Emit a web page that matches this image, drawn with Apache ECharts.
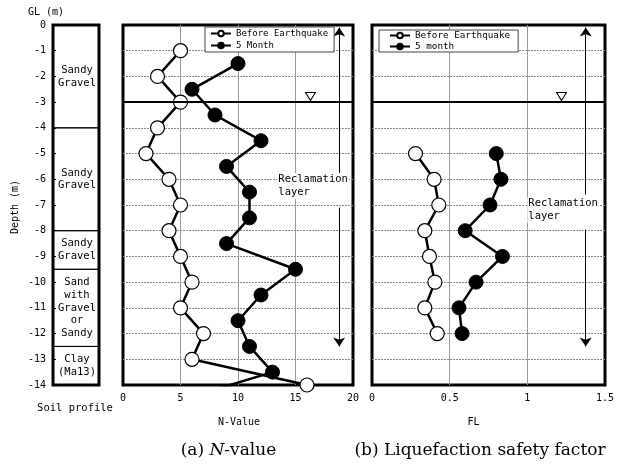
<!DOCTYPE html>
<html><head><meta charset="utf-8">
<script src="https://cdn.jsdelivr.net/npm/echarts@6/dist/echarts.min.js"></script>
<style>html,body{margin:0;padding:0;background:#fff}#c{width:625px;height:465px}</style>
</head><body><div id="c"></div>
<script>
// ---- data ----
const nBeforeDepth = [-1,-2,-3,-4,-5,-6,-7,-8,-9,-10,-11,-12,-13,-14];
const nBeforeValue = [5,3,5,3,2,4,5,4,5,6,5,7,6,16];
const n5MonthDepth = [-1.5,-2.5,-3.5,-4.5,-5.5,-6.5,-7.5,-8.5,-9.5,-10.5,-11.5,-12.5,-13.5,-14.5];
const n5MonthValue = [10,6,8,12,9,11,11,9,15,12,10,11,13,5.6];
const flDepth = [-5,-6,-7,-8,-9,-10,-11,-12];
const flBefore = [0.28,0.40,0.43,0.34,0.37,0.405,0.34,0.42];
const fl5Month = [0.80,0.83,0.76,0.60,0.84,0.67,0.56,0.58];
const soilTop = [0,-4,-8,-9.5,-12.5];
const soilBottom = [-4,-8,-9.5,-12.5,-14];
const soilNames = ['Sandy\nGravel','Sandy\nGravel','Sandy\nGravel','Sand\nwith\nGravel\nor\nSandy','Clay\n(Ma13)'];
const waterLevel = -3;
const reclamationTop = 0, reclamationBottom = -12.5;
const legendN = ['Before Earthquake','5 Month'];
const legendFL = ['Before Earthquake','5 month'];

const mono = "'DejaVu Sans Mono', monospace";
const chart = echarts.init(document.getElementById('c'), null, {renderer:'canvas'});

const pairs = (xs, ys) => xs.map((x,i)=>[x, ys[i]]);
const frame = {show:true, borderColor:'#000', borderWidth:3, backgroundColor:'transparent'};

function depthY(i){ return {min:-14, max:0, interval:1, gridIndex:i, type:'value'}; }

const hiddenAxisParts = {axisLine:{show:false}, axisTick:{show:false}};

function annotations(xArrow, upFrom, downFrom, textX, textY, triX){
  return {
    markLine: {
      silent:true, animation:false, label:{show:false},
      symbol:'none', symbolSize:9,
      lineStyle:{color:'#000', width:1, type:'solid'},
      data:[
        {yAxis: waterLevel, lineStyle:{color:'#000', width:2, type:'solid'}},
        [{coord:[xArrow, upFrom], symbol:'none'}, {coord:[xArrow, reclamationTop-0.1], symbol:'arrow', symbolSize:9}],
        [{coord:[xArrow, downFrom], symbol:'none'}, {coord:[xArrow, reclamationBottom], symbol:'arrow', symbolSize:9}]
      ]
    },
    markPoint: {
      silent:true, animation:false,
      data:[
        {coord:[triX, waterLevel+0.22], symbol:'triangle', symbolRotate:180, symbolSize:[10,8],
         itemStyle:{color:'#fff', borderColor:'#000', borderWidth:1}, label:{show:false}},
        {coord:[textX, textY], symbol:'circle', symbolSize:0,
         itemStyle:{color:'transparent'},
         label:{show:true, position:'inside', align:'left', verticalAlign:'middle',
                formatter:'Reclamation\nlayer', fontFamily:mono, fontSize:10.5, lineHeight:13,
                color:'#000', backgroundColor:'#fff', padding:[0,1]}}
      ]
    }
  };
}

const lineBase = {type:'line', symbol:'circle', symbolSize:14, showAllSymbol:true,
  lineStyle:{color:'#000', width:2.5}, z:3, animation:false};
const whiteSym = {color:'#fff', borderColor:'#000', borderWidth:1.2};
const blackSym = {color:'#000', borderColor:'#000', borderWidth:1};

const option = {
  animation:false,
  grid:[
    Object.assign({left:53, top:25, width:46, height:360}, frame),
    Object.assign({left:123, top:25, width:230, height:360}, frame),
    Object.assign({left:372, top:25, width:233, height:360}, frame)
  ],
  xAxis:[
    {gridIndex:0, type:'value', min:0, max:1, show:false},
    Object.assign({gridIndex:1, type:'value', min:0, max:20, interval:5,
      axisLabel:{fontFamily:mono, fontSize:10, color:'#000', margin:8},
      splitLine:{show:true, showMinLine:false, showMaxLine:false, lineStyle:{color:'#999', width:1}}}, hiddenAxisParts),
    Object.assign({gridIndex:2, type:'value', min:0, max:1.5, interval:0.5,
      axisLabel:{fontFamily:mono, fontSize:10, color:'#000', margin:8, formatter:v=>String(v)},
      splitLine:{show:true, showMinLine:false, showMaxLine:false, lineStyle:{color:'#999', width:1}}}, hiddenAxisParts)
  ],
  yAxis:[
    Object.assign(depthY(0), {axisLine:{show:false},
      axisTick:{show:true, inside:true, length:3, lineStyle:{color:'#000'}},
      axisLabel:{fontFamily:mono, fontSize:10, color:'#000', margin:7},
      splitLine:{show:false}}),
    Object.assign(depthY(1), hiddenAxisParts, {axisLabel:{show:false},
      splitLine:{show:true, showMinLine:false, showMaxLine:false, lineStyle:{color:'#888', width:1, type:[2,1]}}}),
    Object.assign(depthY(2), hiddenAxisParts, {axisLabel:{show:false},
      splitLine:{show:true, showMinLine:false, showMaxLine:false, lineStyle:{color:'#888', width:1, type:[2,1]}}})
  ],
  legend:[
    {data:legendN, orient:'vertical', left:205, top:27, itemWidth:20, itemHeight:7, itemGap:3,
     padding:[2,6,2,5], borderColor:'#444', borderWidth:1, backgroundColor:'#fff', selectedMode:false,
     textStyle:{fontFamily:mono, fontSize:9, color:'#000'}, z:10},
    {data:legendFL, orient:'vertical', left:379, top:30, itemWidth:20, itemHeight:7, itemGap:2,
     padding:[1,8,1,10], borderColor:'#444', borderWidth:1, backgroundColor:'#fff', selectedMode:false,
     textStyle:{fontFamily:mono, fontSize:9.3, color:'#000'}, z:10}
  ],
  series:[
    {type:'custom', xAxisIndex:0, yAxisIndex:0, silent:true,
     data: soilTop.map((t,i)=>[t, soilBottom[i]]),
     encode:{y:[0,1]},
     renderItem:function(params, api){
       const p1 = api.coord([0, api.value(0)]);
       const p2 = api.coord([1, api.value(1)]);
       return {type:'group', children:[
         {type:'rect', shape:{x:p1[0], y:p1[1], width:p2[0]-p1[0], height:p2[1]-p1[1]},
          style:{fill:'none', stroke:'#000', lineWidth:1}},
         {type:'text', style:{text:soilNames[params.dataIndex], x:(p1[0]+p2[0])/2+1, y:(p1[1]+p2[1])/2,
          align:'center', verticalAlign:'middle', font:'10.5px '+mono, lineHeight:12.7, fill:'#000'}}
       ]};
     }},
    Object.assign({}, lineBase, {name:'Before Earthquake', xAxisIndex:1, yAxisIndex:1,
      data:pairs(nBeforeValue, nBeforeDepth), itemStyle:whiteSym},
      annotations(18.8, -5.8, -7.1, 13.42, -6.26, 16.3)),
    Object.assign({}, lineBase, {name:'5 Month', xAxisIndex:1, yAxisIndex:1, z:4,
      data:pairs(n5MonthValue, n5MonthDepth), itemStyle:blackSym}),
    Object.assign({}, lineBase, {name:'Before Earthquake', xAxisIndex:2, yAxisIndex:2,
      data:pairs(flBefore, flDepth), itemStyle:whiteSym},
      annotations(1.376, -6.6, -7.95, 1.0, -7.18, 1.22)),
    Object.assign({}, lineBase, {name:'5 month', xAxisIndex:2, yAxisIndex:2, z:4,
      data:pairs(fl5Month, flDepth), itemStyle:blackSym})
  ],
  graphic:[
    {type:'text', left:28, top:7, style:{text:'GL (m)', font:'10px '+mono, fill:'#000'}},
    {type:'text', x:15, y:207, rotation:Math.PI/2, style:{text:'Depth (m)', font:'10px '+mono, fill:'#000', align:'center', verticalAlign:'middle'}},
    {type:'text', x:75, y:408, style:{text:'Soil profile', font:'10.5px '+mono, fill:'#000', align:'center', verticalAlign:'middle'}},
    {type:'text', x:239, y:422, style:{text:'N-Value', font:'10px '+mono, fill:'#000', align:'center', verticalAlign:'middle'}},
    {type:'text', x:473.5, y:422, style:{text:'FL', font:'10px '+mono, fill:'#000', align:'center', verticalAlign:'middle'}},
    {type:'text', x:228.5, y:451, style:{text:'{a|(a) }{i|N}{a|-value}', align:'center', verticalAlign:'middle',
      rich:{a:{fontFamily:"'DejaVu Serif', serif", fontSize:17, fill:'#000'}, i:{fontFamily:"'DejaVu Serif', serif", fontStyle:'italic', fontSize:17, fill:'#000'}}}},
    {type:'text', x:480, y:451, style:{text:'(b) Liquefaction safety factor', align:'center', verticalAlign:'middle',
      font:"17px 'DejaVu Serif', serif", fill:'#000'}}
  ]
};
chart.setOption(option);
</script>
</body></html>
